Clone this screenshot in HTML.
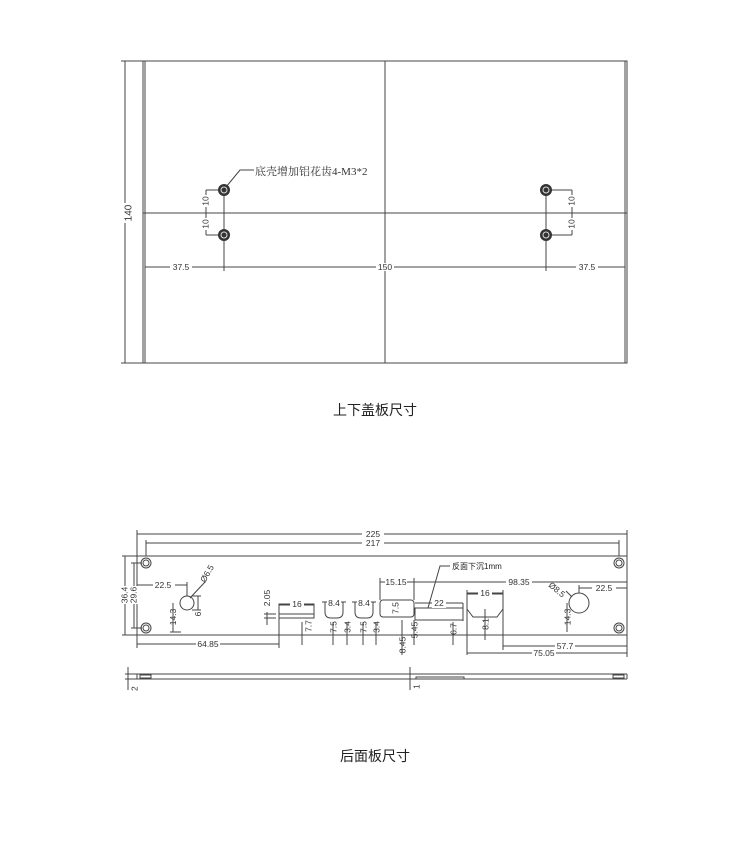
<!DOCTYPE html>
<html><head><meta charset="utf-8">
<style>
html,body{margin:0;padding:0;background:#fff;}
svg{display:block;}
text{font-family:"Liberation Sans",Arial,sans-serif;fill:#333;}
.cj{font-family:"Liberation Serif","Noto Serif CJK SC",serif;}
.t{font-family:"Liberation Sans","Noto Sans CJK SC",sans-serif;fill:#222;}
</style></head>
<body>
<svg width="750" height="851" viewBox="0 0 750 851" xmlns="http://www.w3.org/2000/svg">
<g stroke="#444" stroke-width="1" fill="none">
  <!-- top plate -->
  <rect x="125" y="61" width="502" height="302"/>
  <line x1="143" y1="61" x2="143" y2="363"/>
  <line x1="145" y1="61" x2="145" y2="363"/>
  <line x1="625" y1="61" x2="625" y2="363"/>
  <line x1="385" y1="61" x2="385" y2="363"/>
  <line x1="143" y1="213" x2="627" y2="213"/>
  <!-- 140 dim -->
  <line x1="121" y1="61" x2="129" y2="61"/>
  <line x1="121" y1="363" x2="129" y2="363"/>
  <!-- holes vertical lines -->
  <line x1="224" y1="190" x2="224" y2="271"/>
  <line x1="546" y1="190" x2="546" y2="271"/>
  <!-- 37.5/150 dim line -->
  <line x1="145" y1="267" x2="625" y2="267"/>
  <!-- vertical 10 dims left -->
  <line x1="206" y1="190" x2="224" y2="190"/>
  <line x1="206" y1="235" x2="224" y2="235"/>
  <line x1="206" y1="190" x2="206" y2="235"/>
  <line x1="203" y1="213" x2="209" y2="213"/>
  <!-- right -->
  <line x1="546" y1="190" x2="572" y2="190"/>
  <line x1="546" y1="235" x2="572" y2="235"/>
  <line x1="572" y1="190" x2="572" y2="235"/>
  <line x1="569" y1="213" x2="575" y2="213"/>
  <!-- leader -->
  <polyline points="226,187 240,170 254,170"/>
</g>
<g fill="#333">
  <circle cx="224" cy="190" r="6"/><circle cx="224" cy="235" r="6"/>
  <circle cx="546" cy="190" r="6"/><circle cx="546" cy="235" r="6"/>
</g>
<g fill="none" stroke="#ddd" stroke-width="1">
  <circle cx="224" cy="190" r="3"/><circle cx="224" cy="235" r="3"/>
  <circle cx="546" cy="190" r="3"/><circle cx="546" cy="235" r="3"/>
</g>
<g font-size="8.5">
  <rect x="118" y="203" width="14" height="20" fill="#fff"/>
  <text x="129" y="213" transform="rotate(-90 129 213)" text-anchor="middle" dominant-baseline="middle" font-size="10">140</text>
  <rect x="170" y="263" width="22" height="8" fill="#fff"/>
  <text x="181" y="270" text-anchor="middle">37.5</text>
  <rect x="376" y="263" width="18" height="8" fill="#fff"/>
  <text x="385" y="270" text-anchor="middle">150</text>
  <rect x="576" y="263" width="22" height="8" fill="#fff"/>
  <text x="587" y="270" text-anchor="middle">37.5</text>
  <rect x="202" y="195" width="8" height="12" fill="#fff"/>
  <rect x="202" y="218" width="8" height="12" fill="#fff"/>
  <text x="206" y="201" transform="rotate(-90 206 201)" text-anchor="middle" dominant-baseline="middle">10</text>
  <text x="206" y="224" transform="rotate(-90 206 224)" text-anchor="middle" dominant-baseline="middle">10</text>
  <rect x="568" y="195" width="8" height="12" fill="#fff"/>
  <rect x="568" y="218" width="8" height="12" fill="#fff"/>
  <text x="572" y="201" transform="rotate(-90 572 201)" text-anchor="middle" dominant-baseline="middle">10</text>
  <text x="572" y="224" transform="rotate(-90 572 224)" text-anchor="middle" dominant-baseline="middle">10</text>
</g>
<text x="255" y="175" class="cj" font-size="11">底壳增加铝花齿4-M3*2</text>
<text x="375" y="415" class="t" font-size="14" text-anchor="middle">上下盖板尺寸</text>

<!-- rear panel -->
<g stroke="#444" stroke-width="1" fill="none">
  <rect x="137" y="556" width="490" height="79"/>
  <line x1="137" y1="530" x2="137" y2="556"/>
  <line x1="627" y1="530" x2="627" y2="556"/>
  <line x1="137" y1="534" x2="627" y2="534"/>
  <line x1="146" y1="543" x2="619" y2="543"/>
  <line x1="146" y1="540" x2="146" y2="556"/>
  <line x1="619" y1="540" x2="619" y2="556"/>
  <circle cx="146" cy="563" r="5"/><circle cx="146" cy="563" r="3"/>
  <circle cx="146" cy="628" r="5"/><circle cx="146" cy="628" r="3"/>
  <circle cx="619" cy="563" r="5"/><circle cx="619" cy="563" r="3"/>
  <circle cx="619" cy="628" r="5"/><circle cx="619" cy="628" r="3"/>
  <!-- left height dims -->
  <line x1="125" y1="556" x2="125" y2="635"/>
  <line x1="122" y1="556" x2="137" y2="556"/><line x1="122" y1="635" x2="137" y2="635"/>
  <line x1="134" y1="563" x2="134" y2="628"/>
  <line x1="131" y1="563" x2="142" y2="563"/><line x1="131" y1="628" x2="142" y2="628"/>
  <!-- circle 6.5 -->
  <circle cx="187" cy="603" r="7"/>
  <line x1="137" y1="585" x2="187" y2="585"/>
  <line x1="187" y1="582" x2="187" y2="596"/>
  <line x1="190" y1="598" x2="205" y2="582"/>
  <line x1="173" y1="603" x2="173" y2="632"/>
  <line x1="170" y1="632" x2="181" y2="632"/>
  <line x1="198" y1="596" x2="198" y2="610"/>
  <line x1="192" y1="596" x2="201" y2="596"/><line x1="192" y1="610" x2="201" y2="610"/>
  <!-- 64.85 -->
  <line x1="137" y1="635" x2="137" y2="648"/>
  <line x1="137" y1="644" x2="279" y2="644"/>
  <line x1="279" y1="604" x2="279" y2="648"/>
  <!-- 16 slot -->
  <rect x="279" y="604" width="35" height="14"/>
  <line x1="279" y1="614" x2="314" y2="614"/>
  <line x1="279" y1="605" x2="314" y2="605"/>
  <line x1="267" y1="612" x2="267" y2="625"/>
  <line x1="264" y1="614" x2="276" y2="614"/><line x1="264" y1="618" x2="276" y2="618"/>
  <line x1="302" y1="622" x2="302" y2="645"/>
  <!-- U notches -->
  <path d="M325 602 L325 612 Q325 618 331 618 L337 618 Q343 618 343 612 L343 602"/>
  <path d="M355 602 L355 612 Q355 618 361 618 L367 618 Q373 618 373 612 L373 602"/>
  <line x1="322" y1="602" x2="346" y2="602"/>
  <line x1="352" y1="602" x2="376" y2="602"/>
  <line x1="333" y1="622" x2="333" y2="645"/><line x1="347" y1="622" x2="347" y2="645"/>
  <line x1="363" y1="622" x2="363" y2="645"/><line x1="376" y1="622" x2="376" y2="645"/>
  <!-- 7.5 box -->
  <rect x="380" y="600" width="34" height="17" rx="3"/>
  <line x1="380" y1="578" x2="380" y2="600"/><line x1="414" y1="578" x2="414" y2="600"/>
  <line x1="380" y1="582" x2="414" y2="582"/>
  <line x1="402" y1="620" x2="402" y2="655"/><line x1="414" y1="620" x2="414" y2="645"/>
  <!-- 22 box -->
  <rect x="415" y="608" width="48" height="12"/>
  <line x1="415" y1="603" x2="463" y2="603"/>
  <line x1="463" y1="603" x2="463" y2="621"/>
  <line x1="453" y1="622" x2="453" y2="645"/>
  <polyline points="428,608 440,566 450,566"/>
  <!-- 98.35 -->
  <line x1="414" y1="582" x2="627" y2="582"/>
  <!-- HDMI -->
  <path d="M467 594 L503 594 L503 609 L497 617 L473 617 L467 609 Z"/>
  <line x1="467" y1="590" x2="467" y2="655"/><line x1="503" y1="590" x2="503" y2="650"/>
  <line x1="467" y1="593" x2="503" y2="593"/>
  <line x1="485" y1="609" x2="485" y2="640"/>
  <line x1="503" y1="646" x2="627" y2="646"/>
  <line x1="467" y1="653" x2="627" y2="653"/>
  <line x1="627" y1="635" x2="627" y2="657"/>
  <!-- circle 8.5 -->
  <circle cx="579" cy="603" r="10"/>
  <line x1="579" y1="588" x2="627" y2="588"/>
  <line x1="579" y1="585" x2="579" y2="593"/>
  <line x1="572" y1="597" x2="566" y2="591"/>
  <line x1="567" y1="603" x2="567" y2="632"/>
  <!-- side view -->
  <line x1="137" y1="674" x2="627" y2="674"/>
  <line x1="137" y1="679" x2="627" y2="679"/>
  <line x1="137" y1="674" x2="137" y2="679"/>
  <line x1="627" y1="674" x2="627" y2="679"/>
  <rect x="140" y="675" width="11" height="3"/>
  <rect x="613" y="675" width="11" height="3"/>
  <rect x="416" y="677" width="48" height="2"/>
  <line x1="128" y1="667" x2="128" y2="690"/>
  <line x1="125" y1="674" x2="137" y2="674"/><line x1="125" y1="679" x2="137" y2="679"/>
  <line x1="410" y1="667" x2="410" y2="690"/>
</g>
<g font-size="8.5">
  <rect x="362" y="529" width="22" height="9" fill="#fff"/><text x="373" y="537" text-anchor="middle">225</text>
  <rect x="362" y="538" width="22" height="9" fill="#fff"/><text x="373" y="546" text-anchor="middle">217</text>
  <rect x="120" y="586" width="10" height="18" fill="#fff"/>
  <text x="125" y="595" transform="rotate(-90 125 595)" text-anchor="middle" dominant-baseline="middle">36.4</text>
  <rect x="129" y="586" width="10" height="18" fill="#fff"/>
  <text x="134" y="595" transform="rotate(-90 134 595)" text-anchor="middle" dominant-baseline="middle">29.6</text>
  <rect x="153" y="581" width="22" height="9" fill="#fff"/><text x="163" y="588" text-anchor="middle">22.5</text>
  <text x="205" y="583" transform="rotate(-60 205 583)">Ø6.5</text>
  <text x="176" y="617" transform="rotate(-90 176 617)" text-anchor="middle">14.3</text>
  <text x="201" y="614" transform="rotate(-90 201 614)" text-anchor="middle">6</text>
  <rect x="196" y="640" width="24" height="9" fill="#fff"/><text x="208" y="647" text-anchor="middle">64.85</text>
  <text x="270" y="598" transform="rotate(-90 270 598)" text-anchor="middle">2.05</text>
  <rect x="290" y="600" width="14" height="9" fill="#fff"/><text x="297" y="607" text-anchor="middle">16</text>
  <text x="305" y="626" transform="rotate(-90 305 626)" text-anchor="middle" dominant-baseline="hanging">7.7</text>
  <rect x="327" y="598" width="14" height="9" fill="#fff"/><text x="334" y="606" text-anchor="middle">8.4</text>
  <rect x="357" y="598" width="14" height="9" fill="#fff"/><text x="364" y="606" text-anchor="middle">8.4</text>
  <text x="330" y="627" transform="rotate(-90 330 627)" text-anchor="middle" dominant-baseline="hanging">7.5</text>
  <text x="344" y="627" transform="rotate(-90 344 627)" text-anchor="middle" dominant-baseline="hanging">3.4</text>
  <text x="360" y="627" transform="rotate(-90 360 627)" text-anchor="middle" dominant-baseline="hanging">7.5</text>
  <text x="373" y="627" transform="rotate(-90 373 627)" text-anchor="middle" dominant-baseline="hanging">3.4</text>
  <rect x="385" y="578" width="22" height="9" fill="#fff"/><text x="396" y="585" text-anchor="middle">15.15</text>
  <text x="396" y="608" transform="rotate(-90 396 608)" text-anchor="middle" dominant-baseline="middle">7.5</text>
  <text x="399" y="645" transform="rotate(-90 399 645)" text-anchor="middle" dominant-baseline="hanging">8.45</text>
  <text x="411" y="630" transform="rotate(-90 411 630)" text-anchor="middle" dominant-baseline="hanging">5.45</text>
  <rect x="432" y="599" width="14" height="9" fill="#fff"/><text x="439" y="606" text-anchor="middle">22</text>
  <text x="450" y="629" transform="rotate(-90 450 629)" text-anchor="middle" dominant-baseline="hanging">6.7</text>
  <text x="452" y="569" class="t" font-size="8">反面下沉1mm</text>
  <rect x="506" y="578" width="26" height="9" fill="#fff"/><text x="519" y="585" text-anchor="middle">98.35</text>
  <rect x="478" y="589" width="14" height="9" fill="#fff"/><text x="485" y="596" text-anchor="middle">16</text>
  <text x="482" y="624" transform="rotate(-90 482 624)" text-anchor="middle" dominant-baseline="hanging">8.1</text>
  <rect x="555" y="642" width="20" height="9" fill="#fff"/><text x="565" y="649" text-anchor="middle">57.7</text>
  <rect x="532" y="649" width="24" height="9" fill="#fff"/><text x="544" y="656" text-anchor="middle">75.05</text>
  <rect x="592" y="584" width="24" height="9" fill="#fff"/><text x="604" y="591" text-anchor="middle">22.5</text>
  <text x="548" y="586" transform="rotate(40 548 586)">Ø8.5</text>
  <text x="564" y="617" transform="rotate(-90 564 617)" text-anchor="middle" dominant-baseline="hanging">14.3</text>
  <text x="131" y="691" transform="rotate(-90 131 691)" dominant-baseline="hanging">2</text>
  <text x="413" y="689" transform="rotate(-90 413 689)" dominant-baseline="hanging">1</text>
</g>
<text x="375" y="761" class="t" font-size="14" text-anchor="middle">后面板尺寸</text>
</svg>
</body></html>
